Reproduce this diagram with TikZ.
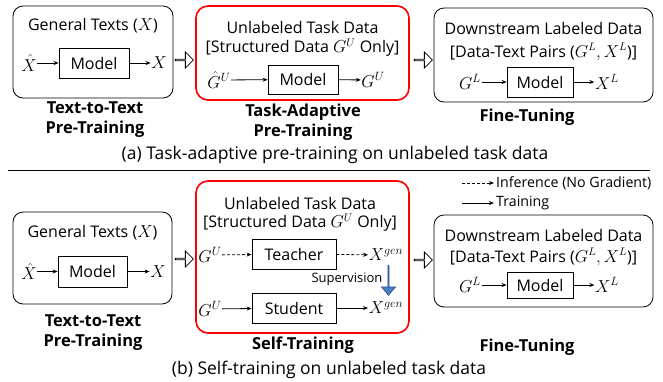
\documentclass[tikz,border=0pt]{standalone}
\usepackage{fontspec}
\setmainfont{Open Sans}
\usetikzlibrary{arrows.meta,shapes.arrows}
\definecolor{supblue}{RGB}{74,126,193}
\definecolor{supedge}{RGB}{47,82,143}
\begin{document}
\begin{tikzpicture}[x=1pt,y=-1pt,
  bigbox/.style={draw, rounded corners=10pt, line width=0.8pt, inner sep=0pt},
  redbox/.style={draw=red, rounded corners=12pt, line width=1.6pt, inner sep=0pt},
  modelbox/.style={draw, line width=0.8pt, inner sep=0pt, font=\fontsize{16}{18}\selectfont},
  txt/.style={inner sep=0pt, font=\fontsize{16}{18}\selectfont},
  lbl/.style={inner sep=0pt, font=\fontsize{16.5}{20}\selectfont\bfseries, align=center},
  captxt/.style={inner sep=0pt, font=\fontsize{17.5}{20}\selectfont},
  vartxt/.style={inner sep=0.5pt, font=\fontsize{16.5}{18}\selectfont},
  suptxt/.style={inner sep=0pt, font=\fontsize{13}{15}\selectfont},
  legtxt/.style={inner sep=0pt, anchor=west, font=\fontsize{14.2}{17}\selectfont},
  tr/.style={-{Stealth[length=5pt,width=4pt]}, line width=0.8pt},
  inf/.style={tr, dash pattern=on 3pt off 2pt},
  hollow/.style={single arrow, draw, line width=0.8pt, fill=white, minimum height=18pt, minimum width=16pt, single arrow head extend=4pt, inner sep=0pt},
  bluearrow/.style={single arrow, draw=supedge, fill=supblue, line width=0.6pt, minimum height=30pt, minimum width=14pt, single arrow head extend=3.5pt, single arrow tip angle=80, inner sep=0pt, rotate=-90},
]
\useasboundingbox (0,0) rectangle (663,381);

% ---------- (a) ----------
\node[bigbox, minimum width=160pt, minimum height=92pt] (A1) at (93,52) {};
\node[txt] (A1t) at (93,26) {General Texts ($X$)};
\node[modelbox, minimum width=70pt, minimum height=30pt] (A1m) at (94,63) {Model};
\node[vartxt] (A1in) at (29,63) {$\hat{X}$};
\node[vartxt] (A1out) at (159,63) {$X$};
\draw[tr] (A1in) -- (A1m);
\draw[tr] (A1m) -- (A1out);
\node[lbl] (A1l) at (95,120) {Text-to-Text\\Pre-Training};

\node[hollow] (H1) at (184,60) {};

\node[redbox, minimum width=213pt, minimum height=94pt] (A2) at (302.5,53) {};
\node[txt] (A2t) at (302.5,27) {Unlabeled Task Data};
\node[txt] (A2s) at (302.5,48) {[Structured Data $G^U$ Only]};
\node[modelbox, minimum width=70pt, minimum height=29pt] (A2m) at (303,79.5) {Model};
\node[vartxt] (A2in) at (219,80) {$\hat{G}^U$};
\node[vartxt] (A2out) at (373,80) {$G^U$};
\draw[tr] (A2in) -- (A2m);
\draw[tr] (A2m) -- (A2out);
\node[lbl] (A2l) at (303,122.5) {Task-Adaptive\\Pre-Training};

\node[hollow] (H2) at (423,60) {};

\node[bigbox, minimum width=219pt, minimum height=94pt] (A3) at (543.5,55) {};
\node[txt] (A3t) at (543.5,28) {Downstream Labeled Data};
\node[txt] (A3s) at (543.5,52) {[Data-Text Pairs ($G^L,X^L$)]};
\node[modelbox, minimum width=66pt, minimum height=30pt] (A3m) at (540,82) {Model};
\node[vartxt] (A3in) at (470,82) {$G^L$};
\node[vartxt] (A3out) at (607,82) {$X^L$};
\draw[tr] (A3in) -- (A3m);
\draw[tr] (A3m) -- (A3out);
\node[lbl] (A3l) at (527,117) {Fine-Tuning};

\node[captxt] (capa) at (335,155) {(a) Task-adaptive pre-training on unlabeled task data};

\coordinate (sepL) at (8,170);
\coordinate (sepR) at (650,170);
\draw[line width=1pt] (sepL) -- (sepR);

% ---------- (b) ----------
\coordinate (legA) at (462,183);
\coordinate (legB) at (494,183);
\coordinate (legC) at (462,203);
\coordinate (legD) at (494,203);
\draw[inf] (legA) -- (legB);
\draw[tr] (legC) -- (legD);
\node[legtxt] (legi) at (496,183) {Inference (No Gradient)};
\node[legtxt] (legt) at (496,203) {Training};

\node[bigbox, minimum width=159pt, minimum height=92pt] (B1) at (92.5,258) {};
\node[txt] (B1t) at (92.5,233) {General Texts ($X$)};
\node[modelbox, minimum width=69pt, minimum height=31pt] (B1m) at (92.5,271.5) {Model};
\node[vartxt] (B1in) at (29,271.5) {$\hat{X}$};
\node[vartxt] (B1out) at (158,271.5) {$X$};
\draw[tr] (B1in) -- (B1m);
\draw[tr] (B1m) -- (B1out);
\node[lbl] (B1l) at (93,333) {Text-to-Text\\Pre-Training};

\node[hollow] (H3) at (184,259) {};

\node[redbox, minimum width=213pt, minimum height=152pt] (B2) at (302.5,257) {};
\node[txt] (B2t) at (300,203) {Unlabeled Task Data};
\node[txt] (B2s) at (300,223) {[Structured Data $G^U$ Only]};
\node[modelbox, minimum width=84pt, minimum height=30pt] (Bt) at (294,254) {Teacher};
\node[modelbox, minimum width=84pt, minimum height=30pt] (Bs) at (294,308) {Student};
\node[vartxt] (Btin) at (210,255) {$G^U$};
\node[vartxt] (Btout) at (386,255) {$X^{gen}$};
\node[vartxt] (Bsin) at (210,309) {$G^U$};
\node[vartxt] (Bsout) at (386,308) {$X^{gen}$};
\draw[inf] (Btin) -- (Bt);
\draw[inf] (Bt) -- (Btout);
\draw[tr] (Bsin) -- (Bs);
\draw[tr] (Bs) -- (Bsout);
\node[bluearrow] (sup) at (388.5,280) {};
\node[suptxt] (supl) at (347,279) {Supervision};
\node[lbl] (B2l) at (303,345) {Self-Training};

\node[hollow] (H4) at (423,260) {};

\node[bigbox, minimum width=219pt, minimum height=92pt] (B3) at (543.5,261) {};
\node[txt] (B3t) at (543.5,235) {Downstream Labeled Data};
\node[txt] (B3s) at (543.5,257) {[Data-Text Pairs ($G^L,X^L$)]};
\node[modelbox, minimum width=66pt, minimum height=26pt] (B3m) at (540,285) {Model};
\node[vartxt] (B3in) at (470,285) {$G^L$};
\node[vartxt] (B3out) at (607,285) {$X^L$};
\draw[tr] (B3in) -- (B3m);
\draw[tr] (B3m) -- (B3out);
\node[lbl] (B3l) at (527,347) {Fine-Tuning};

\node[captxt] (capb) at (329,370) {(b) Self-training on unlabeled task data};
\end{tikzpicture}
\end{document}
